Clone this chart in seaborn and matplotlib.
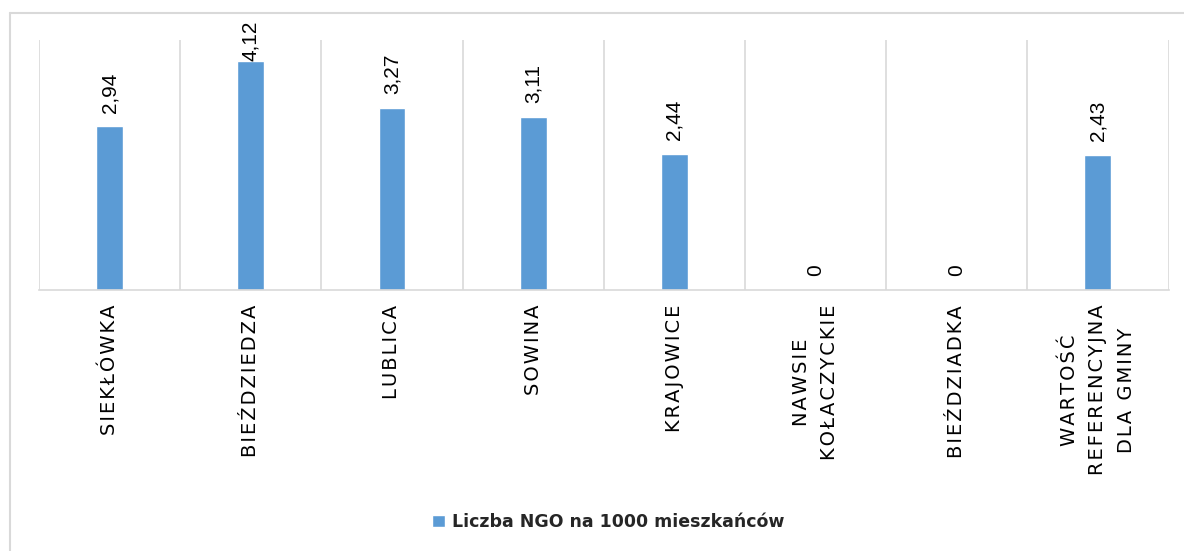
import matplotlib
matplotlib.use("Agg")
import matplotlib.pyplot as plt
from matplotlib.lines import Line2D
import seaborn as sns
import pandas as pd

# Data
categories = [
    "SIEKŁÓWKA",
    "BIEŹDZIEDZA",
    "LUBLICA",
    "SOWINA",
    "KRAJOWICE",
    "NAWSIE\nKOŁACZYCKIE",
    "BIEŹDZIADKA",
    "WARTOŚĆ\nREFERENCYJNA\nDLA GMINY",
]
values = [2.94, 4.12, 3.27, 3.11, 2.44, 0.0, 0.0, 2.43]
value_labels = ["2,94", "4,12", "3,27", "3,11", "2,44", "0", "0", "2,43"]
series_name = "Liczba NGO na 1000 mieszkańców"

BAR_COLOR = "#5B9BD5"
GRID_COLOR = "#D9D9D9"
HAIR = "\u200a"


def tracked(label):
    """Widen letter spacing of an axis label with hair spaces."""
    return "\n".join(HAIR.join(line) for line in label.split("\n"))


sns.set_theme(style="white")
plt.rcParams["font.family"] = ["DejaVu Sans"]

df = pd.DataFrame({"kategoria": categories, "wartosc": values})

fig = plt.figure(figsize=(11.84, 5.51), dpi=100)
ax = fig.add_axes([39 / 1184, 1 - 289.5 / 551, (1168.5 - 39) / 1184, (289.5 - 40) / 551])

sns.barplot(data=df, x="kategoria", y="wartosc", color=BAR_COLOR, saturation=1,
            width=0.19, ax=ax, label=series_name, legend=False)

ax.set_ylim(0, 4.5)
ax.set_xlim(-0.5, len(categories) - 0.5)
ax.set_xlabel("")
ax.set_ylabel("")
ax.set_yticks([])

# vertical separators between categories
for b in range(len(categories) + 1):
    ax.axvline(b - 0.5, color=GRID_COLOR, lw=1.2, zorder=0)

for s in ["top", "left", "right"]:
    ax.spines[s].set_visible(False)
ax.spines["bottom"].set_color(GRID_COLOR)
ax.spines["bottom"].set_linewidth(1.2)

ax.set_xticks(range(len(categories)))
ax.set_xticklabels([tracked(c) for c in categories], rotation=90, ha="center", va="top",
                   multialignment="center", fontsize=14, color="#000000",
                   linespacing=1.65)
ax.tick_params(axis="x", length=0, pad=11)

# value labels above bars
px_per_unit = (289.5 - 40) / 4.5
for i, (v, txt) in enumerate(zip(values, value_labels)):
    room = (4.5 - v) * px_per_unit
    pad = 10 if room > 60 else 0
    ax.annotate(txt, xy=(i, v), xytext=(0, pad), textcoords="offset points",
                rotation=90, ha="center", va="bottom", fontsize=15,
                family="Liberation Sans", color="#000000", annotation_clip=False)

if ax.get_legend() is not None:
    ax.get_legend().remove()
handles, labels = ax.get_legend_handles_labels()
fig.legend(handles, labels, loc="center", bbox_to_anchor=(608 / 1184, 29 / 551),
           frameon=False, prop={"family": "DejaVu Sans", "weight": "bold", "size": 12.5},
           handlelength=0.75, handleheight=0.75, handletextpad=0.4)

# outer chart frame (top and left edges visible)
fig.add_artist(Line2D([10 / 1184, 1.02], [1 - 13 / 551, 1 - 13 / 551],
                      transform=fig.transFigure, color=GRID_COLOR, lw=1.5))
fig.add_artist(Line2D([10 / 1184, 10 / 1184], [-0.02, 1 - 13 / 551],
                      transform=fig.transFigure, color=GRID_COLOR, lw=1.5))

fig.savefig("out.png", dpi=100)
